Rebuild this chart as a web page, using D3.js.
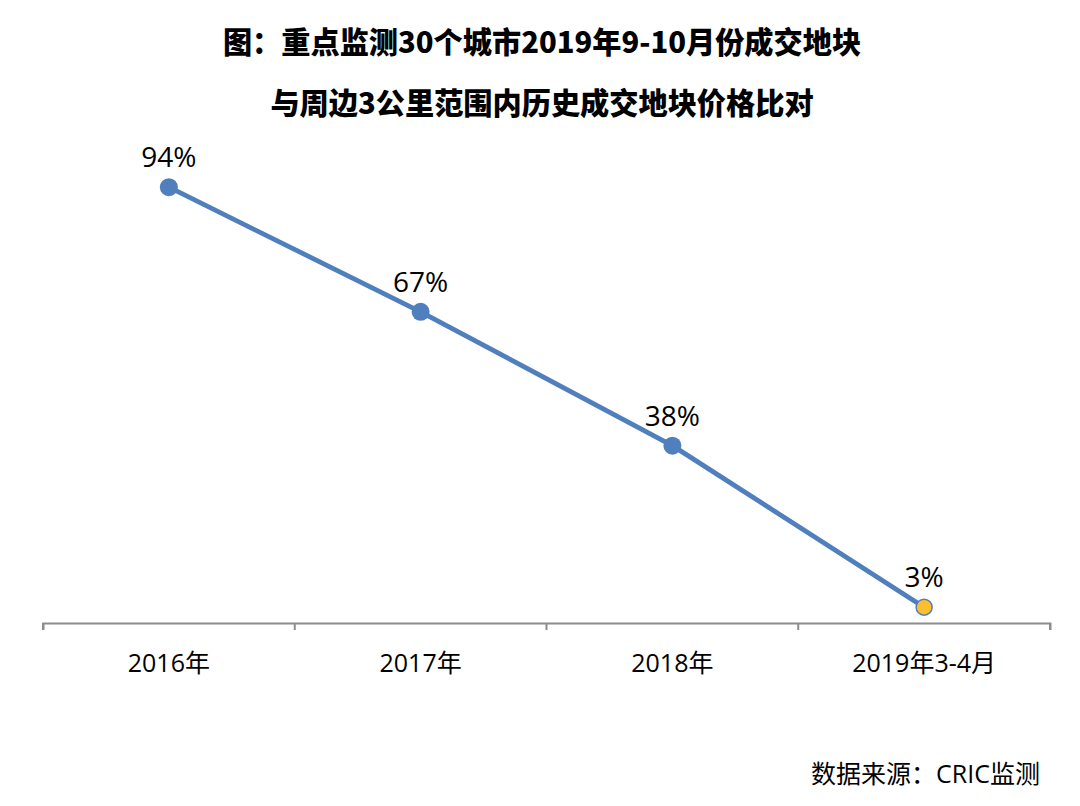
<!DOCTYPE html>
<html>
<head>
<meta charset="utf-8">
<script src="https://cdn.jsdelivr.net/npm/d3@7"></script>
<style>
  html, body { margin: 0; padding: 0; background: #fff; }
  svg { display: block; }
</style>
</head>
<body>
<script>
const titleLines = ["图：重点监测30个城市2019年9-10月份成交地块", "与周边3公里范围内历史成交地块价格比对"];
const categories = ["2016年", "2017年", "2018年", "2019年3-4月"];
const values = [94, 67, 38, 3];
const valueLabels = ["94%", "67%", "38%", "3%"];
const highlightIndex = 3;
const sourceText = "数据来源：CRIC监测";

const W = 1080, H = 806;
const svg = d3.select("body").append("svg").attr("width", W).attr("height", H);

const cjkBold = "'Noto Sans CJK SC', 'Noto Sans', sans-serif";
const bodyFont = "'Open Sans', 'Noto Sans CJK SC', sans-serif";

// Titles
svg.selectAll("text.title").data(titleLines).enter().append("text")
  .attr("class", "title")
  .attr("x", 542)
  .attr("y", (d, i) => 53 + i * 61)
  .attr("text-anchor", "middle")
  .attr("font-family", cjkBold)
  .attr("font-weight", 900)
  .attr("font-size", 29.2)
  .attr("fill", "#000")
  .text(d => d);

const x = d3.scaleBand().domain(categories).range([43, 1050]);
const y = d3.scaleLinear().domain([0, 100]).range([621, 159.5]);
const axisY = 623;

// Axis
const xAxis = d3.axisBottom(x).tickSize(7).tickSizeOuter(7).tickFormat("");
const gx = svg.append("g").attr("transform", `translate(0,${axisY})`).call(xAxis);
gx.select(".domain").attr("stroke", "#8c8c8c").attr("stroke-width", 2);
// Ticks at band boundaries
gx.selectAll(".tick").remove();
const boundaries = categories.map(c => x(c)).concat([x.range()[1]]);
gx.selectAll("line.bnd").data(boundaries).enter().append("line")
  .attr("class", "bnd")
  .attr("x1", d => d).attr("x2", d => d)
  .attr("y1", 0).attr("y2", 7)
  .attr("stroke", "#8c8c8c").attr("stroke-width", 2);

// Category labels
svg.selectAll("text.cat").data(categories).enter().append("text")
  .attr("class", "cat")
  .attr("x", d => x(d) + x.bandwidth() / 2)
  .attr("y", 672)
  .attr("text-anchor", "middle")
  .attr("font-family", bodyFont)
  .attr("font-size", 25)
  .attr("fill", "#000")
  .text(d => d);

const cx = i => x(categories[i]) + x.bandwidth() / 2;

// Line
const line = d3.line().x((d, i) => cx(i)).y(d => y(d));
svg.append("path")
  .datum(values)
  .attr("d", line)
  .attr("fill", "none")
  .attr("stroke", "#4f7fbd")
  .attr("stroke-width", 4.8)
  .attr("stroke-linejoin", "round");

// Markers
svg.selectAll("circle.pt").data(values).enter().append("circle")
  .attr("class", "pt")
  .attr("cx", (d, i) => cx(i))
  .attr("cy", d => y(d))
  .attr("r", (d, i) => i === highlightIndex ? 8 : 9)
  .attr("fill", (d, i) => i === highlightIndex ? "#fdbf2d" : "#4f7fbd")
  .attr("stroke", "#4f7fbd")
  .attr("stroke-width", (d, i) => i === highlightIndex ? 1.5 : 0);

// Value labels
svg.selectAll("text.val").data(values).enter().append("text")
  .attr("class", "val")
  .attr("x", (d, i) => cx(i))
  .attr("y", d => y(d) - 20)
  .attr("text-anchor", "middle")
  .attr("font-family", bodyFont)
  .attr("font-size", 28)
  .attr("fill", "#000")
  .text((d, i) => valueLabels[i]);

// Source
svg.append("text")
  .attr("x", 1040)
  .attr("y", 783)
  .attr("text-anchor", "end")
  .attr("font-family", bodyFont)
  .attr("font-size", 25)
  .attr("fill", "#000")
  .text(sourceText);
</script>
</body>
</html>
